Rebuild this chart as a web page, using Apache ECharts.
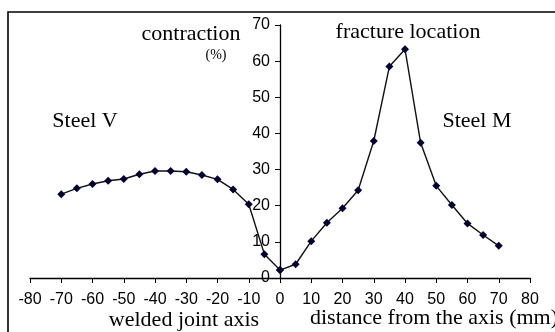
<!DOCTYPE html>
<html>
<head>
<meta charset="utf-8">
<script src="https://cdn.jsdelivr.net/npm/echarts@6/dist/echarts.min.js"></script>
<style>
html,body{margin:0;padding:0;background:#fff;}
#c{width:555px;height:332px;}
</style>
</head>
<body>
<div id="c"></div>
<script>
// Steel V (welded joint side)
const steelVx = [-70, -65, -60, -55, -50, -45, -40, -35, -30, -25, -20, -15, -10, -5, 0];
const steelVy = [23.2, 24.8, 26.0, 26.9, 27.4, 28.7, 29.6, 29.6, 29.4, 28.5, 27.3, 24.5, 20.4, 6.6, 2.2];
// Steel M
const steelMx = [0, 5, 10, 15, 20, 25, 30, 35, 40, 45, 50, 55, 60, 65, 70];
const steelMy = [2.2, 3.8, 10.2, 15.3, 19.3, 24.3, 37.9, 58.5, 63.3, 37.4, 25.5, 20.2, 15.1, 11.9, 8.9];

const pairs = (xs, ys) => xs.map((x, i) => [x, ys[i]]);

const serif = '"Liberation Serif", "Times New Roman", serif';
const sans = '"Liberation Sans", Arial, sans-serif';

const gridLeft = 30, gridRight = 25;
const chartW = 555;
// place the y axis at x = 0 of the x axis (halfway across the plot)
const yAxisOffset = -((chartW - gridLeft - gridRight) / 2);

const chart = echarts.init(document.getElementById('c'));
const seriesStyle = {
  type: 'line',
  symbol: 'diamond',
  symbolSize: 8,
  lineStyle: { color: '#111', width: 1.4 },
  itemStyle: { color: '#000033' },
  animation: false
};
chart.setOption({
  animation: false,
  grid: { left: gridLeft, right: gridRight, top: 25, bottom: 54 },
  xAxis: {
    type: 'value', min: -80, max: 80, interval: 10,
    axisLine: { lineStyle: { color: '#000', width: 1.3 } },
    axisTick: { show: true, length: 5, lineStyle: { color: '#000' } },
    axisLabel: { color: '#000', fontFamily: sans, fontSize: 16, margin: 14 },
    splitLine: { show: false }
  },
  yAxis: {
    type: 'value', min: 0, max: 70, interval: 10,
    position: 'left', offset: yAxisOffset,
    axisLine: { show: true, onZero: false, lineStyle: { color: '#000', width: 1.3 } },
    axisTick: { show: true, length: 5, lineStyle: { color: '#000' } },
    axisLabel: { color: '#000', fontFamily: sans, fontSize: 16, margin: 10 },
    splitLine: { show: false }
  },
  series: [
    Object.assign({ name: 'Steel V', data: pairs(steelVx, steelVy) }, seriesStyle),
    Object.assign({ name: 'Steel M', data: pairs(steelMx, steelMy) }, seriesStyle)
  ],
  graphic: [
    { type: 'rect', shape: { x: 8, y: 12, width: 560, height: 340 }, style: { fill: 'none', stroke: '#000', lineWidth: 1.6 }, silent: true },
    { type: 'text', x: 191, y: 34, style: { text: 'contraction', font: '22px ' + serif, fill: '#000', align: 'center', verticalAlign: 'middle' } },
    { type: 'text', x: 216, y: 55, style: { text: '(%)', font: '14px ' + serif, fill: '#000', align: 'center', verticalAlign: 'middle' } },
    { type: 'text', x: 408, y: 32, style: { text: 'fracture location', font: '22px ' + serif, fill: '#000', align: 'center', verticalAlign: 'middle' } },
    { type: 'text', x: 85, y: 121, style: { text: 'Steel V', font: '22px ' + serif, fill: '#000', align: 'center', verticalAlign: 'middle' } },
    { type: 'text', x: 477, y: 121, style: { text: 'Steel M', font: '22px ' + serif, fill: '#000', align: 'center', verticalAlign: 'middle' } },
    { type: 'text', x: 184, y: 320, style: { text: 'welded joint axis', font: '22px ' + serif, fill: '#000', align: 'center', verticalAlign: 'middle' } },
    { type: 'text', x: 310, y: 318, style: { text: 'distance from the axis (mm)', font: '22px ' + serif, fill: '#000', align: 'left', verticalAlign: 'middle' } }
  ]
});
</script>
</body>
</html>
